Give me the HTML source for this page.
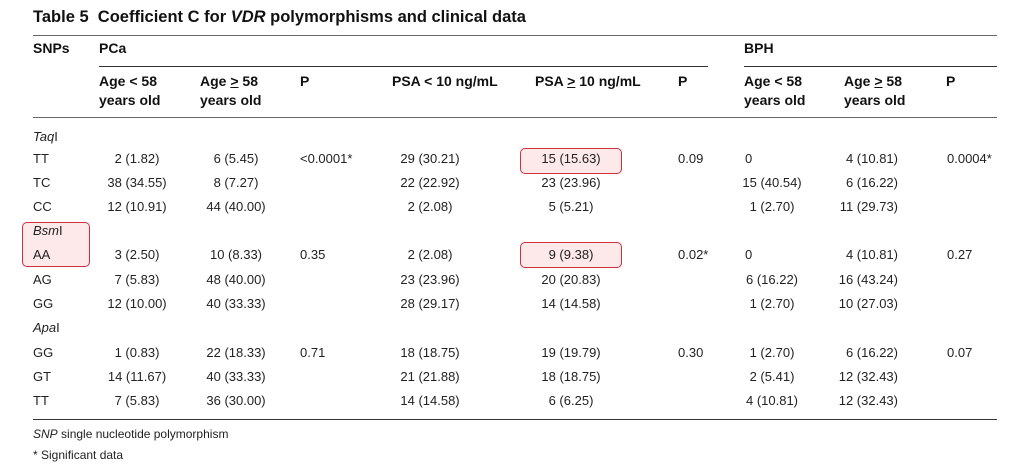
<!DOCTYPE html>
<html><head><meta charset="utf-8"><style>
body{margin:0;width:1020px;height:472px;background:#fff;position:relative;overflow:hidden;font-family:"Liberation Sans",sans-serif;color:#222;}
div{position:absolute;white-space:nowrap;line-height:18px;font-size:13px;}
.b{font-weight:bold;font-size:14px;color:#111}
.c{transform:translateX(-50%)}
.r{transform:translateX(-100%)}
.i{font-style:italic}
.hr{height:0;border-top:1.5px solid #666}
.hr2{height:0;border-top:1px solid #333}
.box{border:1px solid #d0303a;background:#fde8ea;border-radius:5px}
</style></head><body>
<div class="b" style="left:33px;top:7px;font-size:16.5px;line-height:20px">Table 5&nbsp; Coefficient C for <i>VDR</i> polymorphisms and clinical data</div>
<div class="hr" style="left:33px;top:35px;width:964px"></div>
<div class="b" style="left:33px;top:39px">SNPs</div>
<div class="b" style="left:99px;top:39px">PCa</div>
<div class="b" style="left:744px;top:39px">BPH</div>
<div class="hr2" style="left:99px;top:66px;width:609px"></div>
<div class="hr2" style="left:744px;top:66px;width:253px"></div>
<div class="b" style="left:99px;top:72px;line-height:19px">Age &lt; 58<br>years old</div>
<div class="b" style="left:200px;top:72px;line-height:19px">Age <u>&gt;</u> 58<br>years old</div>
<div class="b" style="left:300px;top:72px">P</div>
<div class="b" style="left:392px;top:72px">PSA &lt; 10 ng/mL</div>
<div class="b" style="left:535px;top:72px">PSA <u>&gt;</u> 10 ng/mL</div>
<div class="b" style="left:678px;top:72px">P</div>
<div class="b" style="left:744px;top:72px;line-height:19px">Age &lt; 58<br>years old</div>
<div class="b" style="left:844px;top:72px;line-height:19px">Age <u>&gt;</u> 58<br>years old</div>
<div class="b" style="left:946px;top:72px">P</div>
<div class="hr" style="left:33px;top:117px;width:964px"></div>

<div class="box" style="left:22px;top:222px;width:66px;height:43px"></div>
<div class="box" style="left:520px;top:148px;width:100px;height:24px"></div>
<div class="box" style="left:520px;top:242px;width:100px;height:24px"></div>

<div class="i" style="left:33px;top:128px">Taq<span style="font-style:normal">I</span></div>
<div style="left:33px;top:150px">TT</div><div class="c" style="left:137px;top:150px">2 (1.82)</div><div class="c" style="left:236px;top:150px">6 (5.45)</div><div style="left:300px;top:150px">&lt;0.0001*</div><div class="c" style="left:430px;top:150px">29 (30.21)</div><div class="c" style="left:571px;top:150px">15 (15.63)</div><div style="left:678px;top:150px">0.09</div><div style="left:745px;top:150px">0</div><div class="r" style="left:898px;top:150px">4 (10.81)</div><div style="left:947px;top:150px">0.0004*</div>
<div style="left:33px;top:174px">TC</div><div class="c" style="left:137px;top:174px">38 (34.55)</div><div class="c" style="left:236px;top:174px">8 (7.27)</div><div class="c" style="left:430px;top:174px">22 (22.92)</div><div class="c" style="left:571px;top:174px">23 (23.96)</div><div class="c" style="left:772px;top:174px">15 (40.54)</div><div class="r" style="left:898px;top:174px">6 (16.22)</div>
<div style="left:33px;top:198px">CC</div><div class="c" style="left:137px;top:198px">12 (10.91)</div><div class="c" style="left:236px;top:198px">44 (40.00)</div><div class="c" style="left:430px;top:198px">2 (2.08)</div><div class="c" style="left:571px;top:198px">5 (5.21)</div><div class="c" style="left:772px;top:198px">1 (2.70)</div><div class="r" style="left:898px;top:198px">11 (29.73)</div>
<div class="i" style="left:33px;top:222px">Bsm<span style="font-style:normal">I</span></div>
<div style="left:33px;top:246px">AA</div><div class="c" style="left:137px;top:246px">3 (2.50)</div><div class="c" style="left:236px;top:246px">10 (8.33)</div><div style="left:300px;top:246px">0.35</div><div class="c" style="left:430px;top:246px">2 (2.08)</div><div class="c" style="left:571px;top:246px">9 (9.38)</div><div style="left:678px;top:246px">0.02*</div><div style="left:745px;top:246px">0</div><div class="r" style="left:898px;top:246px">4 (10.81)</div><div style="left:947px;top:246px">0.27</div>
<div style="left:33px;top:271px">AG</div><div class="c" style="left:137px;top:271px">7 (5.83)</div><div class="c" style="left:236px;top:271px">48 (40.00)</div><div class="c" style="left:430px;top:271px">23 (23.96)</div><div class="c" style="left:571px;top:271px">20 (20.83)</div><div class="c" style="left:772px;top:271px">6 (16.22)</div><div class="r" style="left:898px;top:271px">16 (43.24)</div>
<div style="left:33px;top:295px">GG</div><div class="c" style="left:137px;top:295px">12 (10.00)</div><div class="c" style="left:236px;top:295px">40 (33.33)</div><div class="c" style="left:430px;top:295px">28 (29.17)</div><div class="c" style="left:571px;top:295px">14 (14.58)</div><div class="c" style="left:772px;top:295px">1 (2.70)</div><div class="r" style="left:898px;top:295px">10 (27.03)</div>
<div class="i" style="left:33px;top:319px">Apa<span style="font-style:normal">I</span></div>
<div style="left:33px;top:344px">GG</div><div class="c" style="left:137px;top:344px">1 (0.83)</div><div class="c" style="left:236px;top:344px">22 (18.33)</div><div style="left:300px;top:344px">0.71</div><div class="c" style="left:430px;top:344px">18 (18.75)</div><div class="c" style="left:571px;top:344px">19 (19.79)</div><div style="left:678px;top:344px">0.30</div><div class="c" style="left:772px;top:344px">1 (2.70)</div><div class="r" style="left:898px;top:344px">6 (16.22)</div><div style="left:947px;top:344px">0.07</div>
<div style="left:33px;top:368px">GT</div><div class="c" style="left:137px;top:368px">14 (11.67)</div><div class="c" style="left:236px;top:368px">40 (33.33)</div><div class="c" style="left:430px;top:368px">21 (21.88)</div><div class="c" style="left:571px;top:368px">18 (18.75)</div><div class="c" style="left:772px;top:368px">2 (5.41)</div><div class="r" style="left:898px;top:368px">12 (32.43)</div>
<div style="left:33px;top:392px">TT</div><div class="c" style="left:137px;top:392px">7 (5.83)</div><div class="c" style="left:236px;top:392px">36 (30.00)</div><div class="c" style="left:430px;top:392px">14 (14.58)</div><div class="c" style="left:571px;top:392px">6 (6.25)</div><div class="c" style="left:772px;top:392px">4 (10.81)</div><div class="r" style="left:898px;top:392px">12 (32.43)</div>
<div class="hr2" style="left:33px;top:419px;width:964px"></div>
<div style="left:33px;top:425px;font-size:12px"><i>SNP</i> single nucleotide polymorphism</div>
<div style="left:33px;top:446px;font-size:12px">* Significant data</div>
</body></html>
